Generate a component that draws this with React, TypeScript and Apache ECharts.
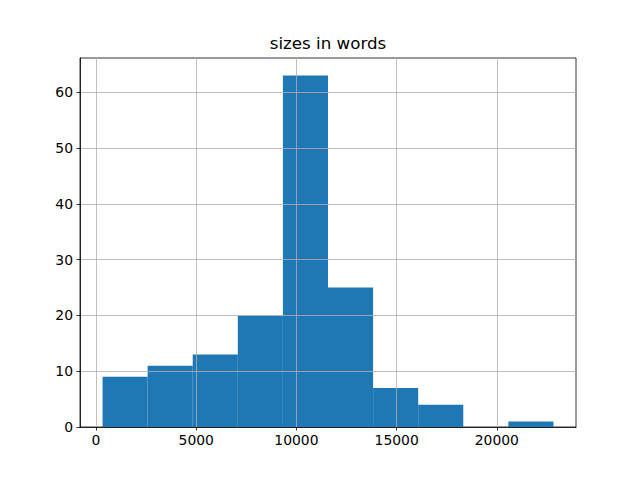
import React, { useEffect, useRef } from "react";
import * as echarts from "echarts";

const titleText = "sizes in words";
const binEdges = [325, 2575, 4825, 7075, 9325, 11575, 13825, 16075, 18325, 20575, 22825];
const counts = [9, 11, 13, 20, 63, 25, 7, 4, 0, 1];
const xTicks = [0, 5000, 10000, 15000, 20000];
const yTicks = [0, 10, 20, 30, 40, 50, 60];

export default function App() {
  const ref = useRef<HTMLDivElement>(null);
  useEffect(() => {
    if (!ref.current) return;
    const chart = echarts.init(ref.current, undefined, { renderer: "svg" });
    const data = counts.map((c, i) => [binEdges[i], binEdges[i + 1], c]);
    const span = binEdges[binEdges.length - 1] - binEdges[0];
    const xMin = binEdges[0] - span * 0.05;
    const xMax = binEdges[binEdges.length - 1] + span * 0.05;
    const yMax = Math.max(...counts) * 1.05;
    const font = "DejaVu Sans";
    chart.setOption({
      animation: false,
      textStyle: { fontFamily: font },
      graphic: [
        {
          type: "text",
          x: 328,
          y: 43,
          style: {
            text: titleText,
            fontFamily: font,
            fontSize: 16.7,
            fill: "#000",
            textAlign: "center",
            textVerticalAlign: "middle",
          },
        },
      ],
      grid: {
        left: 80,
        right: 64,
        top: 58,
        bottom: 53,
        show: true,
        borderColor: "#000",
        borderWidth: 0.8,
        backgroundColor: "transparent",
      },
      xAxis: {
        type: "value",
        min: xMin,
        max: xMax,
        z: 5,
        axisLine: { show: true, onZero: false, lineStyle: { color: "#000", width: 0.8 } },
        axisTick: {
          show: true,
          length: 3.5,
          lineStyle: { color: "#000", width: 0.8 },
          customValues: xTicks,
        },
        axisLabel: {
          customValues: xTicks,
          formatter: (v: number) => String(v),
          color: "#000",
          fontSize: 13.9,
          fontFamily: font,
          margin: 6,
        },
        splitLine: { show: true, lineStyle: { color: "#b0b0b0", width: 0.8 } },
      },
      yAxis: {
        type: "value",
        min: 0,
        max: yMax,
        interval: 10,
        z: 5,
        axisLine: { show: true, onZero: false, lineStyle: { color: "#000", width: 0.8 } },
        axisTick: {
          show: true,
          length: 3.5,
          lineStyle: { color: "#000", width: 0.8 },
          customValues: yTicks,
        },
        axisLabel: {
          customValues: yTicks,
          formatter: (v: number) => String(v),
          color: "#000",
          fontSize: 13.9,
          fontFamily: font,
          margin: 7,
        },
        splitLine: { show: true, lineStyle: { color: "#b0b0b0", width: 0.8 } },
      },
      series: [
        {
          type: "custom",
          z: 2,
          encode: { x: [0, 1], y: 2 },
          data,
          renderItem: (params: any, api: any) => {
            const s = api.coord([api.value(0), api.value(2)]);
            const e = api.coord([api.value(1), 0]);
            return {
              type: "rect",
              shape: { x: s[0], y: s[1], width: e[0] - s[0], height: e[1] - s[1] },
              style: { fill: "#1f77b4" },
            };
          },
        },
      ],
    });
    return () => chart.dispose();
  }, []);
  return <div ref={ref} style={{ width: 640, height: 480, position: "absolute", left: 0, top: 0 }} />;
}
